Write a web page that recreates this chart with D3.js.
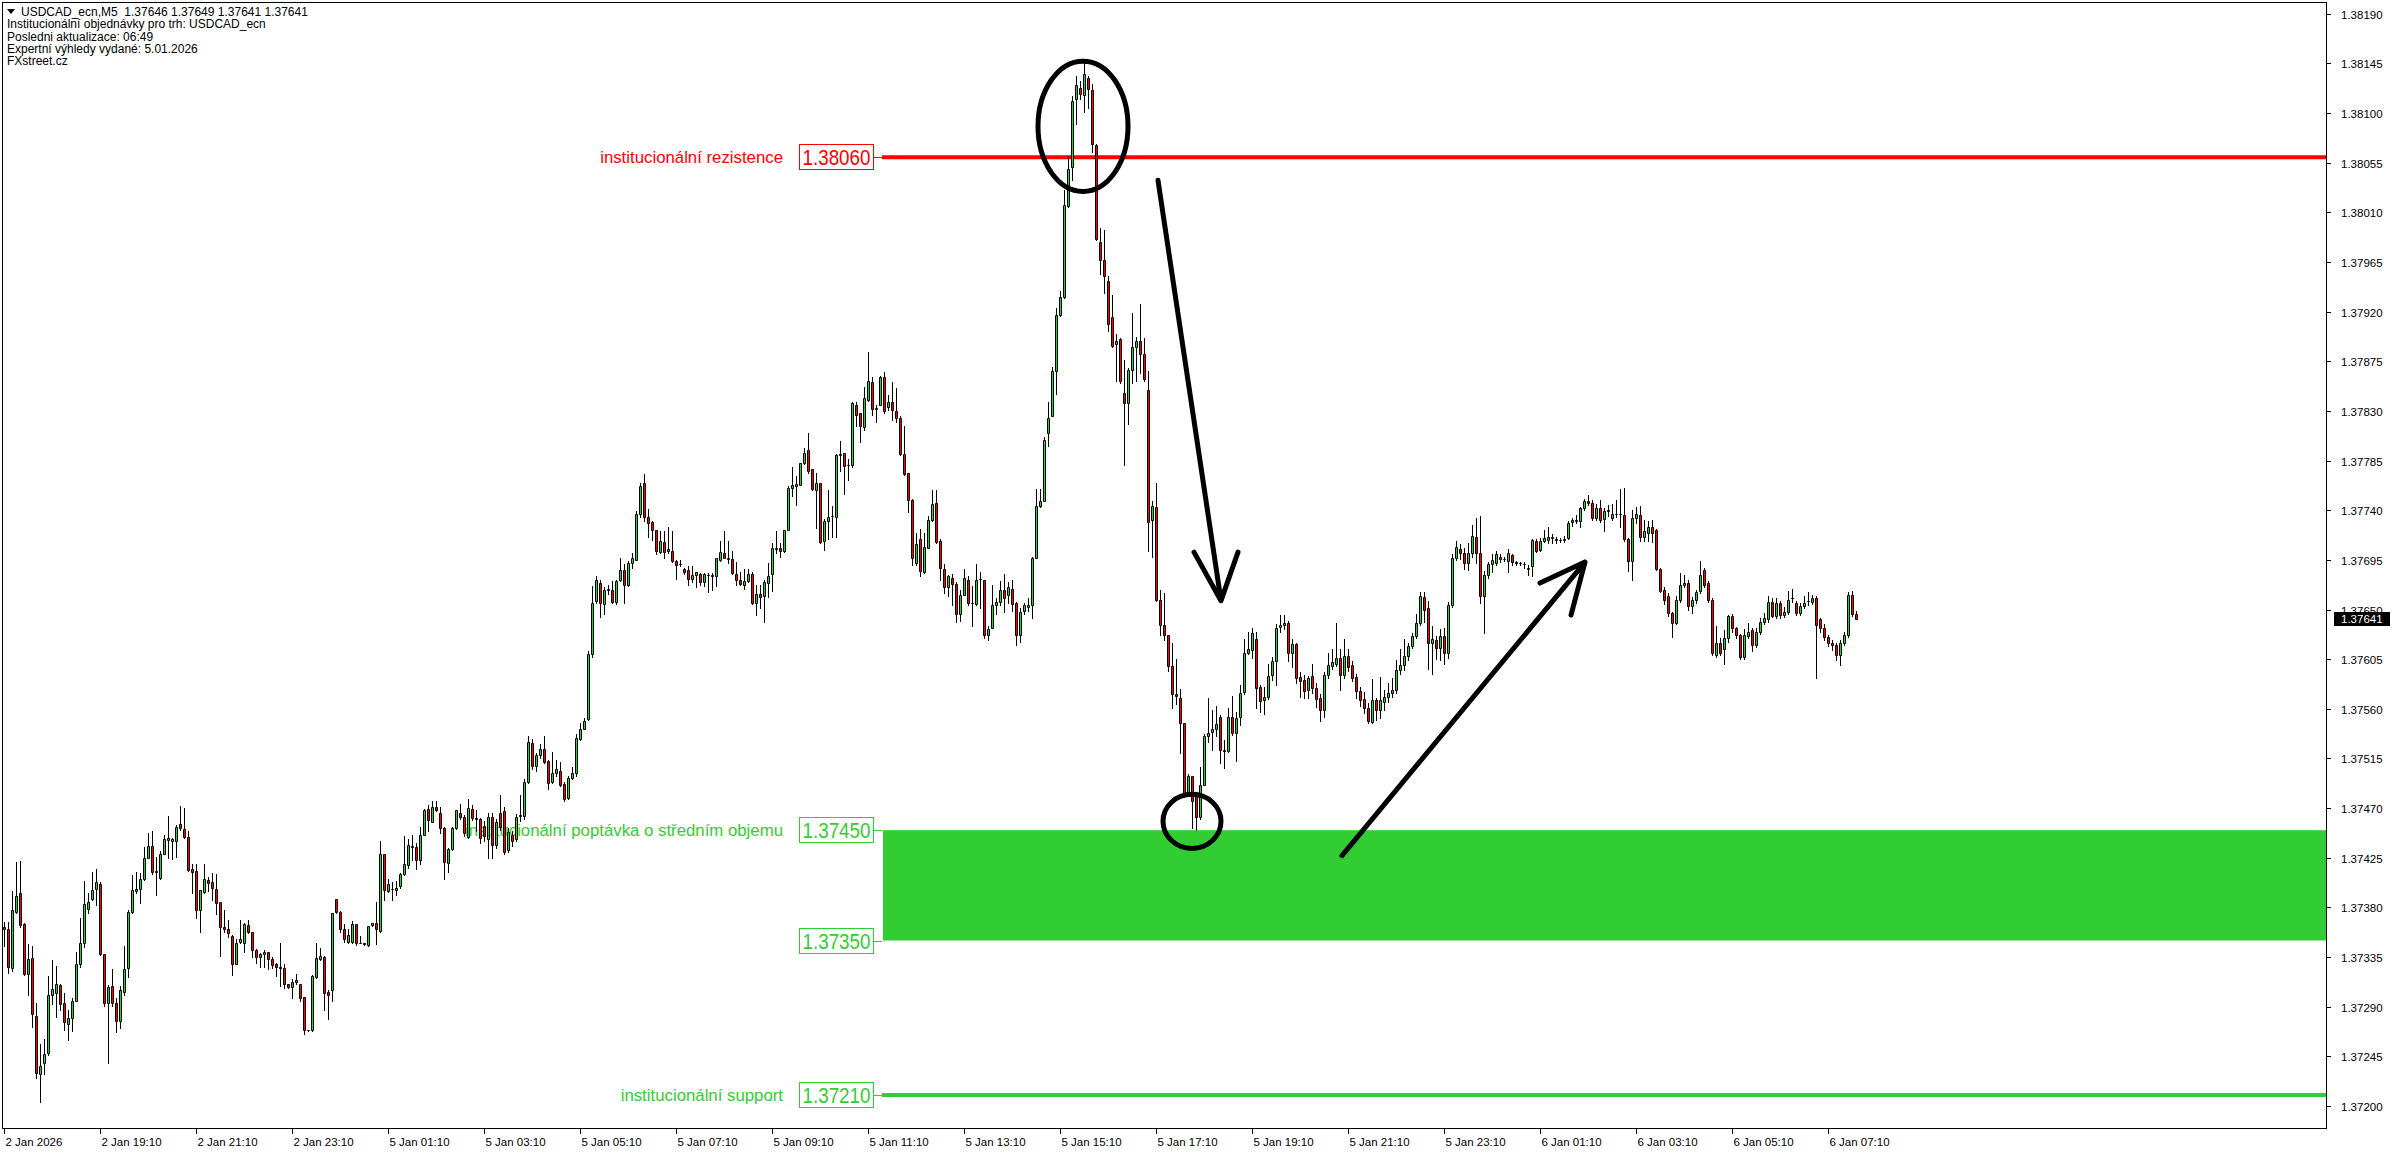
<!DOCTYPE html>
<html><head><meta charset="utf-8">
<script src="https://cdn.jsdelivr.net/npm/d3@7"></script>
<style>html,body{margin:0;padding:0;background:#fff}svg{display:block}text{font-family:"Liberation Sans",Arial,sans-serif}</style>
</head><body>
<svg id="chart" width="2396" height="1154"></svg>
<script>
// ---- DATA ----
// [open, high, low, close] per 5-minute bar, 2 Jan 17:10 .. 6 Jan 07:45
const candles = [
[1.37362,1.37367,1.37345,1.37360],[1.37360,1.37367,1.37321,1.37326],[1.37325,1.37395,1.37322,1.37378],[1.37376,1.37421,1.37375,1.37390],
[1.37393,1.37422,1.37362,1.37364],[1.37365,1.37366,1.37319,1.37320],[1.37320,1.37347,1.37301,1.37333],[1.37334,1.37345,1.37272,1.37283],
[1.37282,1.37293,1.37225,1.37230],[1.37229,1.37256,1.37204,1.37236],[1.37239,1.37261,1.37229,1.37247],[1.37248,1.37318,1.37246,1.37301],
[1.37301,1.37332,1.37292,1.37306],[1.37302,1.37327,1.37281,1.37311],[1.37310,1.37311,1.37287,1.37292],[1.37293,1.37302,1.37269,1.37276],
[1.37274,1.37287,1.37260,1.37280],[1.37280,1.37298,1.37268,1.37295],[1.37295,1.37340,1.37295,1.37329],[1.37329,1.37370,1.37326,1.37348],
[1.37348,1.37404,1.37344,1.37383],[1.37379,1.37393,1.37375,1.37385],[1.37388,1.37412,1.37387,1.37396],[1.37397,1.37415,1.37382,1.37403],
[1.37401,1.37403,1.37337,1.37338],[1.37338,1.37338,1.37291,1.37293],[1.37293,1.37310,1.37239,1.37308],[1.37309,1.37324,1.37291,1.37293],
[1.37293,1.37298,1.37267,1.37277],[1.37277,1.37309,1.37271,1.37305],[1.37303,1.37345,1.37301,1.37324],[1.37325,1.37378,1.37317,1.37376],
[1.37376,1.37409,1.37375,1.37396],[1.37395,1.37412,1.37393,1.37397],[1.37397,1.37411,1.37384,1.37406],[1.37406,1.37435,1.37405,1.37425],
[1.37425,1.37447,1.37425,1.37436],[1.37436,1.37449,1.37410,1.37412],[1.37413,1.37426,1.37391,1.37412],[1.37407,1.37431,1.37406,1.37428],
[1.37428,1.37446,1.37428,1.37442],[1.37441,1.37463,1.37425,1.37443],[1.37440,1.37443,1.37424,1.37442],[1.37440,1.37455,1.37426,1.37453],
[1.37456,1.37472,1.37450,1.37452],[1.37451,1.37470,1.37443,1.37444],[1.37444,1.37449,1.37413,1.37414],[1.37415,1.37419,1.37393,1.37412],
[1.37413,1.37419,1.37370,1.37378],[1.37378,1.37396,1.37358,1.37396],[1.37394,1.37419,1.37393,1.37406],[1.37405,1.37408,1.37395,1.37402],
[1.37403,1.37411,1.37387,1.37398],[1.37397,1.37410,1.37374,1.37384],[1.37385,1.37385,1.37336,1.37362],[1.37362,1.37378,1.37358,1.37360],
[1.37360,1.37369,1.37353,1.37357],[1.37354,1.37355,1.37319,1.37329],[1.37329,1.37351,1.37329,1.37348],[1.37349,1.37369,1.37348,1.37351],
[1.37348,1.37366,1.37340,1.37365],[1.37364,1.37369,1.37357,1.37358],[1.37358,1.37358,1.37335,1.37341],[1.37341,1.37342,1.37330,1.37335],
[1.37335,1.37339,1.37326,1.37338],[1.37338,1.37341,1.37326,1.37340],[1.37340,1.37340,1.37324,1.37333],[1.37333,1.37335,1.37325,1.37328],
[1.37329,1.37330,1.37318,1.37326],[1.37326,1.37348,1.37309,1.37325],[1.37325,1.37329,1.37307,1.37311],[1.37311,1.37311,1.37307,1.37308],
[1.37308,1.37315,1.37298,1.37312],[1.37312,1.37320,1.37311,1.37314],[1.37311,1.37311,1.37295,1.37298],[1.37299,1.37299,1.37265,1.37269],
[1.37269,1.37269,1.37268,1.37269],[1.37269,1.37319,1.37268,1.37318],[1.37317,1.37348,1.37316,1.37334],[1.37333,1.37343,1.37332,1.37336],
[1.37335,1.37336,1.37287,1.37302],[1.37303,1.37305,1.37279,1.37301],[1.37305,1.37375,1.37295,1.37375],[1.37388,1.37388,1.37375,1.37376],
[1.37376,1.37377,1.37358,1.37360],[1.37360,1.37365,1.37349,1.37351],[1.37349,1.37360,1.37348,1.37355],[1.37349,1.37368,1.37348,1.37365],
[1.37365,1.37365,1.37346,1.37348],[1.37348,1.37354,1.37348,1.37348],[1.37348,1.37348,1.37346,1.37347],[1.37346,1.37363,1.37345,1.37363],
[1.37364,1.37366,1.37363,1.37366],[1.37366,1.37385,1.37347,1.37360],[1.37359,1.37440,1.37358,1.37428],[1.37428,1.37428,1.37387,1.37396],
[1.37395,1.37406,1.37394,1.37401],[1.37397,1.37403,1.37387,1.37397],[1.37396,1.37404,1.37391,1.37398],[1.37399,1.37411,1.37398,1.37410],
[1.37410,1.37445,1.37409,1.37419],[1.37418,1.37442,1.37416,1.37437],[1.37436,1.37446,1.37423,1.37435],[1.37435,1.37438,1.37415,1.37423],
[1.37423,1.37453,1.37419,1.37446],[1.37446,1.37469,1.37446,1.37468],[1.37469,1.37473,1.37449,1.37459],[1.37457,1.37476,1.37457,1.37471],
[1.37471,1.37476,1.37467,1.37468],[1.37466,1.37471,1.37447,1.37452],[1.37452,1.37453,1.37406,1.37421],[1.37420,1.37434,1.37412,1.37433],
[1.37433,1.37453,1.37432,1.37452],[1.37452,1.37468,1.37451,1.37468],[1.37466,1.37474,1.37460,1.37462],[1.37462,1.37464,1.37445,1.37447],
[1.37444,1.37478,1.37443,1.37470],[1.37469,1.37473,1.37459,1.37461],[1.37461,1.37468,1.37449,1.37460],[1.37460,1.37461,1.37438,1.37443],
[1.37454,1.37458,1.37440,1.37445],[1.37442,1.37466,1.37425,1.37462],[1.37462,1.37466,1.37425,1.37437],[1.37437,1.37460,1.37434,1.37457],
[1.37466,1.37482,1.37450,1.37453],[1.37467,1.37471,1.37428,1.37430],[1.37432,1.37452,1.37430,1.37448],[1.37446,1.37449,1.37436,1.37440],
[1.37442,1.37465,1.37440,1.37462],[1.37463,1.37482,1.37458,1.37464],[1.37463,1.37496,1.37460,1.37494],[1.37494,1.37535,1.37493,1.37530],
[1.37529,1.37533,1.37505,1.37508],[1.37508,1.37520,1.37504,1.37518],[1.37518,1.37528,1.37515,1.37524],[1.37524,1.37535,1.37511,1.37512],
[1.37513,1.37514,1.37487,1.37493],[1.37494,1.37521,1.37493,1.37502],[1.37502,1.37514,1.37499,1.37505],[1.37504,1.37512,1.37490,1.37491],
[1.37492,1.37494,1.37476,1.37478],[1.37479,1.37499,1.37478,1.37497],[1.37497,1.37507,1.37496,1.37502],[1.37502,1.37537,1.37499,1.37534],
[1.37533,1.37547,1.37532,1.37542],[1.37542,1.37552,1.37542,1.37549],[1.37551,1.37612,1.37550,1.37610],[1.37610,1.37671,1.37607,1.37656],
[1.37658,1.37680,1.37656,1.37677],[1.37674,1.37677,1.37643,1.37656],[1.37655,1.37670,1.37646,1.37668],[1.37668,1.37672,1.37664,1.37669],
[1.37668,1.37676,1.37656,1.37657],[1.37657,1.37677,1.37655,1.37676],[1.37677,1.37697,1.37676,1.37686],[1.37686,1.37691,1.37656,1.37672],
[1.37672,1.37694,1.37671,1.37692],[1.37692,1.37701,1.37688,1.37697],[1.37695,1.37739,1.37695,1.37737],[1.37737,1.37765,1.37734,1.37762],
[1.37765,1.37773,1.37730,1.37734],[1.37734,1.37741,1.37716,1.37728],[1.37729,1.37730,1.37713,1.37722],[1.37722,1.37722,1.37700,1.37703],
[1.37702,1.37721,1.37701,1.37712],[1.37711,1.37721,1.37697,1.37702],[1.37703,1.37725,1.37701,1.37705],[1.37703,1.37721,1.37693,1.37694],
[1.37694,1.37695,1.37678,1.37690],[1.37691,1.37695,1.37689,1.37691],[1.37687,1.37688,1.37682,1.37684],[1.37686,1.37689,1.37672,1.37678],
[1.37678,1.37689,1.37675,1.37681],[1.37681,1.37684,1.37670,1.37684],[1.37682,1.37683,1.37672,1.37675],[1.37675,1.37683,1.37671,1.37682],
[1.37681,1.37683,1.37666,1.37681],[1.37681,1.37683,1.37668,1.37680],[1.37680,1.37697,1.37671,1.37697],[1.37695,1.37712,1.37694,1.37702],
[1.37701,1.37721,1.37697,1.37697],[1.37697,1.37712,1.37692,1.37696],[1.37696,1.37703,1.37682,1.37683],[1.37682,1.37693,1.37672,1.37677],
[1.37677,1.37684,1.37672,1.37673],[1.37672,1.37687,1.37669,1.37676],[1.37676,1.37687,1.37675,1.37682],[1.37682,1.37684,1.37655,1.37656],
[1.37656,1.37672,1.37645,1.37664],[1.37664,1.37672,1.37651,1.37661],[1.37662,1.37677,1.37639,1.37675],[1.37674,1.37692,1.37661,1.37680],
[1.37682,1.37710,1.37667,1.37706],[1.37705,1.37721,1.37701,1.37706],[1.37706,1.37710,1.37698,1.37703],[1.37703,1.37722,1.37702,1.37722],
[1.37722,1.37762,1.37722,1.37760],[1.37760,1.37779,1.37753,1.37763],[1.37762,1.37771,1.37745,1.37764],[1.37763,1.37783,1.37763,1.37783],
[1.37783,1.37796,1.37782,1.37792],[1.37795,1.37810,1.37774,1.37776],[1.37777,1.37777,1.37758,1.37759],[1.37758,1.37774,1.37724,1.37765],
[1.37765,1.37765,1.37710,1.37711],[1.37712,1.37732,1.37704,1.37730],[1.37730,1.37758,1.37714,1.37734],[1.37735,1.37744,1.37716,1.37735],
[1.37734,1.37791,1.37716,1.37790],[1.37790,1.37803,1.37776,1.37791],[1.37792,1.37792,1.37755,1.37780],[1.37781,1.37786,1.37767,1.37781],
[1.37781,1.37838,1.37779,1.37837],[1.37835,1.37838,1.37816,1.37826],[1.37828,1.37828,1.37802,1.37816],[1.37815,1.37852,1.37813,1.37842],
[1.37840,1.37883,1.37839,1.37857],[1.37856,1.37861,1.37826,1.37832],[1.37832,1.37835,1.37820,1.37833],[1.37835,1.37862,1.37835,1.37861],
[1.37861,1.37865,1.37828,1.37830],[1.37834,1.37844,1.37831,1.37838],[1.37838,1.37856,1.37822,1.37831],[1.37830,1.37851,1.37820,1.37824],
[1.37824,1.37825,1.37790,1.37791],[1.37791,1.37816,1.37772,1.37773],[1.37774,1.37774,1.37738,1.37749],[1.37749,1.37750,1.37690,1.37697],
[1.37692,1.37719,1.37690,1.37709],[1.37714,1.37723,1.37680,1.37685],[1.37684,1.37719,1.37683,1.37707],[1.37706,1.37735,1.37706,1.37731],
[1.37731,1.37758,1.37730,1.37746],[1.37747,1.37758,1.37710,1.37711],[1.37712,1.37714,1.37677,1.37688],[1.37687,1.37691,1.37665,1.37670],
[1.37670,1.37681,1.37662,1.37680],[1.37679,1.37682,1.37654,1.37673],[1.37673,1.37675,1.37639,1.37646],[1.37646,1.37668,1.37640,1.37663],
[1.37663,1.37687,1.37663,1.37679],[1.37677,1.37680,1.37654,1.37656],[1.37656,1.37671,1.37635,1.37656],[1.37655,1.37691,1.37654,1.37677],
[1.37678,1.37684,1.37651,1.37678],[1.37677,1.37677,1.37624,1.37627],[1.37627,1.37635,1.37622,1.37632],[1.37633,1.37672,1.37633,1.37654],
[1.37654,1.37660,1.37646,1.37657],[1.37657,1.37676,1.37654,1.37668],[1.37668,1.37682,1.37648,1.37660],[1.37663,1.37675,1.37656,1.37670],
[1.37669,1.37677,1.37649,1.37655],[1.37656,1.37657,1.37618,1.37627],[1.37627,1.37651,1.37621,1.37648],[1.37649,1.37656,1.37646,1.37654],
[1.37652,1.37660,1.37649,1.37654],[1.37654,1.37698,1.37642,1.37697],[1.37697,1.37759,1.37697,1.37744],[1.37744,1.37759,1.37743,1.37748],
[1.37748,1.37806,1.37748,1.37804],[1.37810,1.37838,1.37798,1.37824],[1.37825,1.37870,1.37825,1.37866],[1.37866,1.37923,1.37845,1.37917],
[1.37917,1.37939,1.37916,1.37933],[1.37933,1.38030,1.37932,1.38017],[1.38016,1.38061,1.38015,1.38049],[1.38051,1.38115,1.38039,1.38111],
[1.38113,1.38134,1.38090,1.38125],[1.38123,1.38129,1.38113,1.38117],[1.38116,1.38149,1.38101,1.38135],[1.38132,1.38134,1.38105,1.38122],
[1.38121,1.38126,1.38065,1.38072],[1.38071,1.38072,1.37985,1.37986],[1.37983,1.37996,1.37954,1.37967],[1.37967,1.37994,1.37937,1.37952],
[1.37948,1.37952,1.37902,1.37909],[1.37915,1.37935,1.37888,1.37889],[1.37891,1.37900,1.37857,1.37893],[1.37895,1.37896,1.37855,1.37857],
[1.37846,1.37876,1.37781,1.37837],[1.37837,1.37869,1.37818,1.37867],[1.37867,1.37919,1.37855,1.37888],[1.37888,1.37897,1.37857,1.37893],
[1.37893,1.37927,1.37864,1.37882],[1.37882,1.37896,1.37857,1.37859],[1.37849,1.37866,1.37703,1.37729],[1.37731,1.37748,1.37698,1.37744],
[1.37743,1.37765,1.37658,1.37659],[1.37659,1.37668,1.37627,1.37636],[1.37636,1.37665,1.37622,1.37627],[1.37627,1.37627,1.37594,1.37599],
[1.37599,1.37620,1.37561,1.37573],[1.37573,1.37605,1.37564,1.37572],[1.37570,1.37578,1.37520,1.37547],[1.37547,1.37547,1.37482,1.37483],
[1.37485,1.37501,1.37482,1.37499],[1.37499,1.37499,1.37452,1.37476],[1.37481,1.37485,1.37450,1.37462],[1.37462,1.37507,1.37460,1.37491],
[1.37491,1.37537,1.37491,1.37535],[1.37535,1.37570,1.37530,1.37538],[1.37539,1.37559,1.37523,1.37542],[1.37542,1.37563,1.37535,1.37546],
[1.37553,1.37554,1.37511,1.37523],[1.37523,1.37532,1.37506,1.37522],[1.37522,1.37561,1.37521,1.37553],[1.37553,1.37572,1.37536,1.37538],
[1.37538,1.37557,1.37513,1.37552],[1.37553,1.37582,1.37545,1.37574],[1.37575,1.37623,1.37573,1.37611],[1.37611,1.37630,1.37610,1.37614],
[1.37613,1.37633,1.37606,1.37629],[1.37623,1.37630,1.37561,1.37579],[1.37580,1.37582,1.37557,1.37567],[1.37568,1.37580,1.37555,1.37571],
[1.37571,1.37601,1.37569,1.37590],[1.37591,1.37607,1.37586,1.37603],[1.37603,1.37637,1.37582,1.37633],[1.37634,1.37645,1.37630,1.37636],
[1.37636,1.37645,1.37632,1.37638],[1.37638,1.37640,1.37603,1.37611],[1.37611,1.37623,1.37598,1.37619],[1.37619,1.37620,1.37583,1.37588],
[1.37589,1.37593,1.37571,1.37585],[1.37586,1.37591,1.37570,1.37576],[1.37577,1.37590,1.37570,1.37588],[1.37590,1.37601,1.37574,1.37579],
[1.37579,1.37583,1.37562,1.37569],[1.37570,1.37573,1.37549,1.37559],[1.37559,1.37593,1.37553,1.37591],[1.37591,1.37611,1.37588,1.37600],
[1.37599,1.37614,1.37596,1.37602],[1.37601,1.37638,1.37599,1.37606],[1.37606,1.37614,1.37577,1.37591],[1.37591,1.37623,1.37588,1.37608],
[1.37608,1.37614,1.37594,1.37598],[1.37600,1.37603,1.37585,1.37588],[1.37589,1.37592,1.37570,1.37576],[1.37576,1.37580,1.37563,1.37568],
[1.37569,1.37575,1.37556,1.37561],[1.37561,1.37565,1.37547,1.37549],[1.37548,1.37587,1.37547,1.37568],[1.37568,1.37570,1.37550,1.37559],
[1.37559,1.37589,1.37552,1.37568],[1.37566,1.37577,1.37559,1.37571],[1.37571,1.37583,1.37566,1.37574],[1.37574,1.37588,1.37571,1.37577],
[1.37577,1.37604,1.37574,1.37595],[1.37595,1.37614,1.37592,1.37600],[1.37600,1.37623,1.37595,1.37608],[1.37608,1.37620,1.37604,1.37617],
[1.37617,1.37629,1.37615,1.37626],[1.37626,1.37646,1.37624,1.37638],[1.37638,1.37666,1.37636,1.37662],[1.37661,1.37666,1.37639,1.37650],
[1.37651,1.37658,1.37596,1.37620],[1.37620,1.37635,1.37592,1.37623],[1.37622,1.37626,1.37605,1.37615],[1.37615,1.37632,1.37604,1.37626],
[1.37626,1.37633,1.37601,1.37611],[1.37611,1.37657,1.37606,1.37654],[1.37654,1.37700,1.37652,1.37697],[1.37697,1.37712,1.37695,1.37707],
[1.37705,1.37709,1.37696,1.37701],[1.37701,1.37706,1.37687,1.37692],[1.37692,1.37710,1.37686,1.37701],[1.37701,1.37727,1.37698,1.37717],
[1.37716,1.37733,1.37692,1.37701],[1.37701,1.37735,1.37656,1.37662],[1.37662,1.37685,1.37629,1.37681],[1.37681,1.37693,1.37679,1.37691],
[1.37691,1.37700,1.37684,1.37695],[1.37692,1.37703,1.37690,1.37700],[1.37698,1.37700,1.37693,1.37696],[1.37696,1.37698,1.37694,1.37696],
[1.37694,1.37705,1.37684,1.37701],[1.37699,1.37700,1.37690,1.37693],[1.37693,1.37694,1.37690,1.37692],[1.37692,1.37693,1.37690,1.37692],
[1.37691,1.37693,1.37688,1.37691],[1.37688,1.37690,1.37681,1.37687],[1.37689,1.37714,1.37680,1.37713],[1.37712,1.37714,1.37702,1.37703],
[1.37704,1.37715,1.37703,1.37712],[1.37712,1.37722,1.37711,1.37715],[1.37713,1.37725,1.37710,1.37716],[1.37716,1.37718,1.37710,1.37715],
[1.37714,1.37716,1.37710,1.37713],[1.37713,1.37715,1.37711,1.37713],[1.37713,1.37717,1.37711,1.37714],[1.37715,1.37730,1.37714,1.37728],
[1.37729,1.37733,1.37726,1.37731],[1.37730,1.37736,1.37728,1.37731],[1.37730,1.37743,1.37725,1.37742],[1.37742,1.37750,1.37740,1.37748],
[1.37748,1.37754,1.37745,1.37747],[1.37747,1.37749,1.37731,1.37733],[1.37733,1.37746,1.37731,1.37742],[1.37742,1.37749,1.37729,1.37731],
[1.37732,1.37742,1.37721,1.37739],[1.37739,1.37745,1.37735,1.37740],[1.37733,1.37746,1.37731,1.37737],[1.37737,1.37749,1.37734,1.37737],
[1.37737,1.37759,1.37725,1.37737],[1.37736,1.37760,1.37712,1.37714],[1.37714,1.37715,1.37685,1.37694],[1.37694,1.37740,1.37677,1.37733],
[1.37733,1.37743,1.37728,1.37737],[1.37736,1.37744,1.37712,1.37716],[1.37716,1.37731,1.37712,1.37721],[1.37719,1.37730,1.37712,1.37725],
[1.37725,1.37731,1.37711,1.37719],[1.37722,1.37723,1.37686,1.37687],[1.37687,1.37688,1.37666,1.37667],[1.37668,1.37670,1.37655,1.37659],
[1.37662,1.37665,1.37644,1.37647],[1.37647,1.37648,1.37625,1.37638],[1.37638,1.37662,1.37637,1.37659],[1.37659,1.37683,1.37657,1.37672],
[1.37672,1.37681,1.37670,1.37674],[1.37674,1.37677,1.37650,1.37653],[1.37653,1.37661,1.37647,1.37659],[1.37659,1.37668,1.37656,1.37666],
[1.37667,1.37694,1.37665,1.37681],[1.37686,1.37688,1.37670,1.37672],[1.37674,1.37676,1.37657,1.37659],[1.37659,1.37660,1.37609,1.37611],
[1.37609,1.37635,1.37607,1.37620],[1.37620,1.37624,1.37609,1.37611],[1.37614,1.37631,1.37601,1.37624],[1.37624,1.37645,1.37621,1.37644],
[1.37644,1.37646,1.37630,1.37633],[1.37633,1.37634,1.37624,1.37627],[1.37627,1.37628,1.37605,1.37607],[1.37607,1.37632,1.37605,1.37627],
[1.37626,1.37638,1.37624,1.37630],[1.37631,1.37633,1.37612,1.37618],[1.37618,1.37633,1.37616,1.37630],[1.37630,1.37642,1.37628,1.37639],
[1.37639,1.37647,1.37637,1.37642],[1.37641,1.37662,1.37639,1.37657],[1.37657,1.37660,1.37643,1.37644],[1.37644,1.37660,1.37642,1.37656],
[1.37656,1.37658,1.37642,1.37645],[1.37645,1.37652,1.37643,1.37648],[1.37648,1.37667,1.37646,1.37659],[1.37660,1.37669,1.37657,1.37660],
[1.37656,1.37658,1.37645,1.37647],[1.37647,1.37656,1.37645,1.37653],[1.37653,1.37662,1.37651,1.37656],[1.37658,1.37666,1.37654,1.37658],
[1.37657,1.37663,1.37655,1.37660],[1.37660,1.37662,1.37588,1.37636],[1.37641,1.37642,1.37630,1.37633],[1.37633,1.37637,1.37622,1.37625],
[1.37625,1.37627,1.37617,1.37620],[1.37620,1.37622,1.37613,1.37618],[1.37618,1.37620,1.37604,1.37609],[1.37609,1.37622,1.37600,1.37620],
[1.37620,1.37630,1.37618,1.37627],[1.37627,1.37666,1.37625,1.37663],[1.37663,1.37667,1.37644,1.37646],[1.37646,1.37649,1.37641,1.37641]
];
const timeLabels = ["2 Jan 2026","2 Jan 19:10","2 Jan 21:10","2 Jan 23:10","5 Jan 01:10","5 Jan 03:10","5 Jan 05:10","5 Jan 07:10","5 Jan 09:10","5 Jan 11:10","5 Jan 13:10","5 Jan 15:10","5 Jan 17:10","5 Jan 19:10","5 Jan 21:10","5 Jan 23:10","6 Jan 01:10","6 Jan 03:10","6 Jan 05:10","6 Jan 07:10"];
const timeLabelBars = [0,24,48,72,96,120,144,168,192,216,240,264,288,312,336,360,384,408,432,456];
const priceTicks = [1.38190,1.38145,1.38100,1.38055,1.38010,1.37965,1.37920,1.37875,1.37830,1.37785,1.37740,1.37695,1.37650,1.37605,1.37560,1.37515,1.37470,1.37425,1.37380,1.37335,1.37290,1.37245,1.37200];
const headerLines = ["USDCAD_ecn,M5  1.37646 1.37649 1.37641 1.37641","Institucionální objednávky pro trh: USDCAD_ecn","Posledni aktualizace: 06:49","Expertní výhledy vydané: 5.01.2026","FXstreet.cz"];
const resistanceLevel = 1.38060;
const demandZone = [1.37450, 1.37350];
const supportLevel = 1.37210;
const levelNames = ["institucionální rezistence","institucionální poptávka o středním objemu","institucionální support"];
const levelStartBar = 219.5;
const lastPrice = 1.37641;
// hand-drawn annotations in chart units: [bar, price]
const ellipseNotes = [[269.75,1.38088,11.25,0.00059],[297,1.37458,7.25,0.000245]];
const arrowDown = [[288.5,1.38039],[304.25,1.37658],[297.5,1.37702],[308.5,1.37702]];
const arrowUp = [[334.5,1.37427],[395.25,1.37693],[384,1.37674],[391.75,1.37645]];

// ---- LAYOUT ----
const W = 2396, H = 1154;
const frame = {left: 2, top: 2, right: 2326, bottom: 1128};
const svg = d3.select('#chart');
svg.append('rect').attr('width', W).attr('height', H).attr('fill', '#fff');

const x = d3.scaleLinear().domain([0, candles.length - 1]).range([4, 4 + 4 * (candles.length - 1)]);
const y = d3.scaleLinear().domain([1.37200, 1.38190]).range([1106, 13.75]);
const GREEN = '#32cd32', RED = '#ff0000';

svg.append('clipPath').attr('id', 'clip').append('rect')
  .attr('x', frame.left).attr('y', frame.top).attr('width', frame.right - frame.left).attr('height', frame.bottom - frame.top);
const plot = svg.append('g').attr('clip-path', 'url(#clip)');

// levels (background)
const startX = Math.round(x(levelStartBar));
const rightX = frame.right;
plot.append('rect').attr('x', startX + 1).attr('y', y(demandZone[0])).attr('width', rightX - startX - 1)
  .attr('height', y(demandZone[1]) - y(demandZone[0])).attr('fill', GREEN);
plot.append('line').attr('x1', startX).attr('x2', rightX).attr('y1', y(resistanceLevel)).attr('y2', y(resistanceLevel))
  .attr('stroke', RED).attr('stroke-width', 4);
plot.append('line').attr('x1', startX).attr('x2', rightX).attr('y1', y(supportLevel)).attr('y2', y(supportLevel))
  .attr('stroke', GREEN).attr('stroke-width', 4);

function priceBox(price, color) {
  const cy = Math.round(y(price));
  const bx = startX - 83;
  plot.append('line').attr('x1', bx + 74).attr('x2', startX).attr('y1', cy + 0.5).attr('y2', cy + 0.5)
    .attr('stroke', color).attr('stroke-width', 1);
  plot.append('rect').attr('x', bx + 0.5).attr('y', cy - 12.5).attr('width', 74).attr('height', 25)
    .attr('fill', '#fff').attr('stroke', color).attr('stroke-width', 1);
  plot.append('text').attr('x', bx + 37.5).attr('y', cy + 8).attr('text-anchor', 'middle')
    .attr('font-size', 22).attr('fill', color).attr('textLength', 68).attr('lengthAdjust', 'spacingAndGlyphs')
    .text(price.toFixed(5));
}
function levelText(price, label, color) {
  plot.append('text').attr('x', startX - 99).attr('y', Math.round(y(price)) + 6).attr('text-anchor', 'end')
    .attr('font-size', 16.8).attr('fill', color).text(label);
}
levelText(resistanceLevel, levelNames[0], RED);
levelText(demandZone[0], levelNames[1], GREEN);
levelText(supportLevel, levelNames[2], GREEN);
priceBox(resistanceLevel, RED);
priceBox(demandZone[0], GREEN);
priceBox(demandZone[1], GREEN);
priceBox(supportLevel, GREEN);

// candles
const cg = plot.append('g');
const cx = i => Math.round(x(i));
cg.selectAll('line.wick').data(candles).join('line').attr('class', 'wick')
  .attr('x1', (d, i) => cx(i) + 0.5).attr('x2', (d, i) => cx(i) + 0.5)
  .attr('y1', d => Math.round(y(d[1]))).attr('y2', d => Math.round(y(d[2])) + 1)
  .attr('stroke', '#000').attr('stroke-width', 1);
cg.selectAll('path.body').data(candles).join('path').attr('class', 'body')
  .attr('d', (d, i) => {
    const t = Math.round(y(Math.max(d[0], d[3]))) + 0.5;
    const b = Math.round(y(Math.min(d[0], d[3]))) + 0.5;
    const l = cx(i) - 0.5, r = cx(i) + 1.5;
    return `M${l},${t}H${r}V${b}H${l}Z`;
  })
  .attr('fill', d => d[3] >= d[0] ? GREEN : RED)
  .attr('stroke', '#000').attr('stroke-width', 1);

// annotations
const ag = plot.append('g').attr('fill', 'none').attr('stroke', '#000').attr('stroke-width', 5)
  .attr('stroke-linecap', 'round').attr('stroke-linejoin', 'round');
ellipseNotes.forEach(e => {
  ag.append('ellipse').attr('cx', x(e[0])).attr('cy', y(e[1]))
    .attr('rx', x(e[0] + e[2]) - x(e[0])).attr('ry', y(e[1] - e[3]) - y(e[1]));
});
[arrowDown, arrowUp].forEach(a => {
  const p = a.map(q => [x(q[0]), y(q[1])]);
  ag.append('path').attr('d', `M${p[0]}L${p[1]}M${p[2]}L${p[1]}L${p[3]}`);
});

// frame
svg.append('rect').attr('x', frame.left + 0.5).attr('y', frame.top + 0.5)
  .attr('width', frame.right - frame.left).attr('height', frame.bottom - frame.top)
  .attr('fill', 'none').attr('stroke', '#000').attr('stroke-width', 1);

// price axis
const pa = svg.append('g');
priceTicks.forEach(p => {
  const py = Math.round(y(p)) + 0.5;
  pa.append('line').attr('x1', frame.right + 1).attr('x2', frame.right + 5).attr('y1', py).attr('y2', py).attr('stroke', '#000');
  pa.append('text').attr('x', frame.right + 15).attr('y', py + 4).attr('font-size', 11.5).attr('fill', '#000').text(p.toFixed(5));
});
const lpY = Math.round(y(lastPrice));
pa.append('rect').attr('x', frame.right + 8).attr('y', lpY - 7).attr('width', 56).attr('height', 14).attr('fill', '#000');
pa.append('text').attr('x', frame.right + 15).attr('y', lpY + 4).attr('font-size', 11.5).attr('fill', '#fff').text(lastPrice.toFixed(5));

// time axis
const ta = svg.append('g');
timeLabelBars.forEach((b, k) => {
  const tx = cx(b) + 0.5;
  ta.append('line').attr('x1', tx).attr('x2', tx).attr('y1', frame.bottom + 1).attr('y2', frame.bottom + 6).attr('stroke', '#000');
  ta.append('text').attr('x', tx + 1).attr('y', frame.bottom + 18).attr('font-size', 11.5).attr('fill', '#000').text(timeLabels[k]);
});

// header
const hg = svg.append('g');
hg.append('path').attr('d', 'M7,9L15,9L11,14Z').attr('fill', '#000');
headerLines.forEach((t, k) => {
  hg.append('text').attr('x', k === 0 ? 21 : 7).attr('y', 16 + k * 12.3).attr('font-size', 12)
    .attr('fill', '#000').style('white-space', 'pre').text(t);
});
</script>
</body></html>
